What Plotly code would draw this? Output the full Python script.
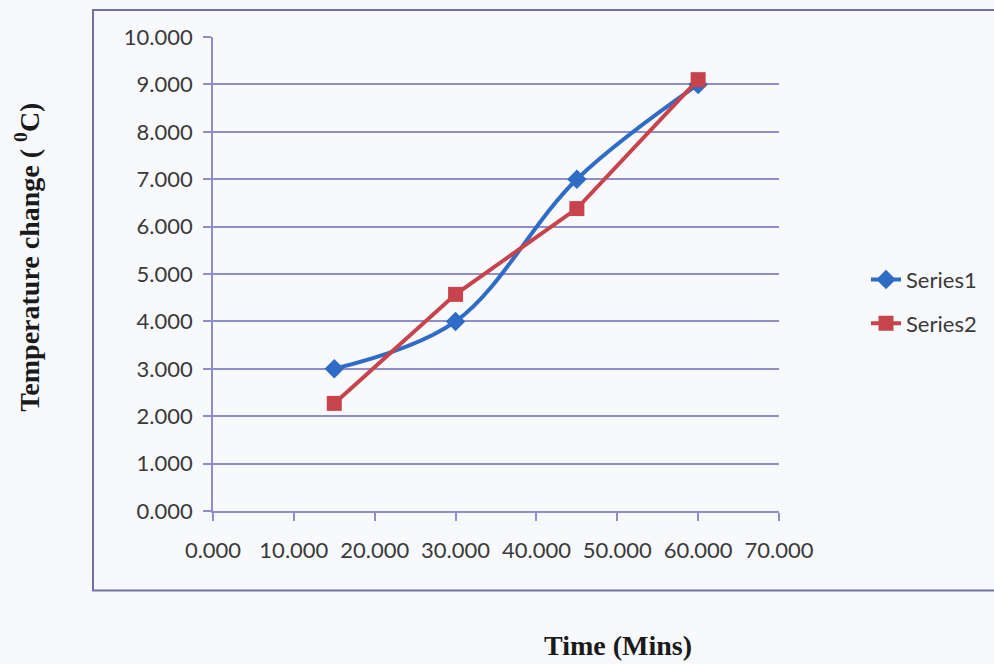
import plotly.graph_objects as go

time_mins = [15, 30, 45, 60]
series1 = [3.0, 4.0, 7.0, 9.0]
series2 = [2.27, 4.57, 6.38, 9.1]
series_names = ["Series1", "Series2"]
x_ticks = [0, 10, 20, 30, 40, 50, 60, 70]
y_ticks = [0, 1, 2, 3, 4, 5, 6, 7, 8, 9, 10]

W, H = 994, 664
L, R, T, B = 213, 779, 37, 511.5

blue = "#2f6cc6"
red = "#c8444c"
grid = "#8e8ec8"
bg = "#f8f9fc"

fig = go.Figure()
fig.add_trace(go.Scatter(
    x=time_mins, y=series1, name=series_names[0], mode="lines+markers",
    line=dict(color=blue, width=4, shape="spline", smoothing=1.0),
    marker=dict(symbol="diamond", size=15, color=blue),
    legendgroup="a",
))
fig.add_trace(go.Scatter(
    x=time_mins, y=series2, name=series_names[1], mode="lines+markers",
    line=dict(color=red, width=4),
    marker=dict(symbol="square", size=15, color=red),
    legendgroup="b",
))

tick_font = dict(family="Lato, 'Open Sans', sans-serif", size=22, color="#3a3a3a")
serif = "'Liberation Serif', 'Times New Roman', serif"

fig.update_layout(
    width=W, height=H,
    margin=dict(l=L, r=W - R, t=T, b=H - B, pad=0),
    paper_bgcolor=bg, plot_bgcolor=bg,
    showlegend=True,
    legend=dict(
        x=(866 - L) / (R - L), y=(B - 259) / (B - T), xanchor="left", yanchor="top",
        font=dict(family="Lato, 'Open Sans', sans-serif", size=22, color="#3a3a3a"),
        bgcolor="rgba(0,0,0,0)", tracegroupgap=12, itemwidth=30,
    ),
    xaxis=dict(
        range=[0, 70], tickvals=x_ticks, ticktext=[f"{v:.3f}" for v in x_ticks],
        showgrid=False, zeroline=False, showline=True, linecolor=grid, linewidth=1.5,
        ticks="outside", ticklen=8, tickcolor=grid, tickwidth=1.5,
        tickfont=tick_font, ticklabelstandoff=11,
    ),
    yaxis=dict(
        range=[0, 10], tickvals=y_ticks, ticktext=[f"{v:.3f}" for v in y_ticks],
        showgrid=True, gridcolor=grid, gridwidth=1.5, zeroline=False,
        showline=True, linecolor=grid, linewidth=1.5,
        ticks="outside", ticklen=8, tickcolor=grid, tickwidth=1.5,
        tickfont=tick_font, ticklabelstandoff=6,
    ),
    shapes=[dict(
        type="rect", xref="paper", yref="paper",
        x0=(93 - L) / (R - L), x1=(1010 - L) / (R - L),
        y0=(B - 591) / (B - T), y1=(B - 10) / (B - T),
        line=dict(color="#6e72a8", width=2), fillcolor="rgba(0,0,0,0)", layer="below",
    )],
    annotations=[
        dict(text="<b>Time (Mins)</b>", xref="paper", yref="paper",
             x=(618 - L) / (R - L), y=(B - 646) / (B - T), showarrow=False,
             xanchor="center", yanchor="middle",
             font=dict(family=serif, size=28, color="#1a1a1a")),
        dict(text="<b>Temperature change ( <sup>0</sup>C)</b>", xref="paper", yref="paper",
             x=(28 - L) / (R - L), y=(B - 258) / (B - T), showarrow=False, textangle=-90,
             xanchor="center", yanchor="middle",
             font=dict(family=serif, size=28, color="#1a1a1a")),
    ],
)

fig.write_html("out.html")
